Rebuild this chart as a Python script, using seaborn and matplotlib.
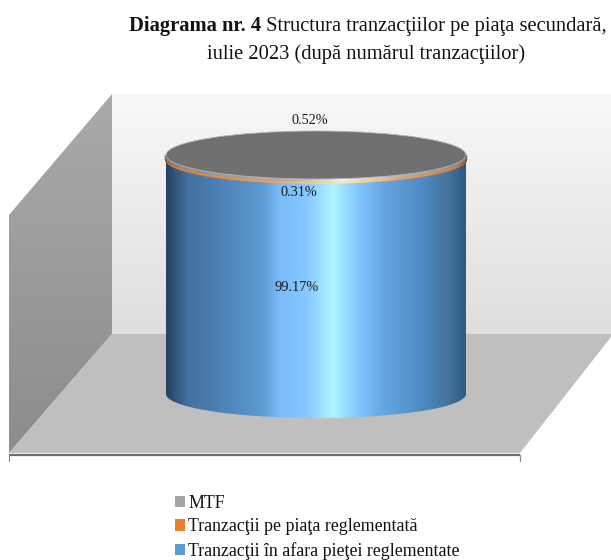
import numpy as np
import pandas as pd
import matplotlib
matplotlib.use("Agg")
import matplotlib.pyplot as plt
import seaborn as sns
from matplotlib.colors import LinearSegmentedColormap
from matplotlib.patches import Patch, Polygon, Ellipse

series = ["Tranzacţii în afara pieţei reglementate", "Tranzacţii pe piaţa reglementată", "MTF"]
values = [99.17, 0.31, 0.52]
labels = ["99.17%", "0.31%", "0.52%"]
legend_colors = ["#5b9bd5", "#ed7d31", "#a5a5a5"]
category = "iulie 2023"

sns.set_theme(style="white")
plt.rcParams["font.family"] = ["Liberation Serif", "DejaVu Serif"]

W, H = 611, 560
fig = plt.figure(figsize=(W / 100, H / 100), dpi=100, facecolor="white")

# --- pseudo-3D room, in pixel coordinates
bg = fig.add_axes([0, 0, 1, 1], zorder=0)
bg.set_xlim(0, W)
bg.set_ylim(H, 0)
bg.axis("off")


def grad_poly(ax, pts, colors):
    pts = np.array(pts, float)
    cmap = LinearSegmentedColormap.from_list("g", colors)
    g = np.linspace(0, 1, 256).reshape(-1, 1)
    ext = (pts[:, 0].min(), pts[:, 0].max(), pts[:, 1].max(), pts[:, 1].min())
    im = ax.imshow(g, cmap=cmap, extent=ext, aspect="auto", origin="upper", zorder=1)
    poly = Polygon(pts, closed=True, transform=ax.transData, fc="none", ec="none")
    ax.add_patch(poly)
    im.set_clip_path(poly)


grad_poly(bg, [(112, 94), (611, 94), (611, 334), (112, 334)], ["#f8f8f8", "#dedede"])
grad_poly(bg, [(112, 94), (9, 215), (9, 453), (112, 334)], ["#aaaaaa", "#8c8c8c"])
bg.add_patch(Polygon([(112, 334), (611, 334), (611, 337), (520, 453), (9, 453)], closed=True,
                     fc="#bfbfbf", ec="none", zorder=2))
bg.plot([9, 520], [455, 455], color="#6b6b6b", lw=1.6, zorder=3, solid_capstyle="butt")
bg.plot([9, 9], [455, 461], color="#8a8a8a", lw=0.9, zorder=3)
bg.plot([520, 520], [455, 461], color="#8a8a8a", lw=0.9, zorder=3)
bg.set_xlim(0, W)
bg.set_ylim(H, 0)

# --- cylinder: stacked bars on a transparent axes
ax = fig.add_axes([0, 0, 1, 1], zorder=1)
ax.patch.set_alpha(0)
df = pd.DataFrame({"cat": [category] * 3, "series": series, "value": values})
bottoms = np.concatenate([[0], np.cumsum(values)[:-1]])
for i, row in df.iterrows():
    sns.barplot(data=df.iloc[[i]], x="cat", y="value", bottom=bottoms[i], width=1.0,
                color=legend_colors[i], saturation=1, ax=ax, errorbar=None, linewidth=0)

PX_PER_PCT = 2.39
x_center_px, y0_px, width_px = 316.0, 394.0, 300.0
ax.set_xlim((0 - x_center_px) / width_px, (W - x_center_px) / width_px)
ax.set_ylim((y0_px - H) / PX_PER_PCT, y0_px / PX_PER_PCT)
xlim, ylim = ax.get_xlim(), ax.get_ylim()
ax.axis("off")

ry = 24 / PX_PER_PCT
rx = 0.5
blue_stops = [(0, "#24435f"), (0.07, "#43709f"), (0.20, "#4f86ba"), (0.32, "#5d9ad2"), (0.38, "#7cbcfa"),
              (0.47, "#86c8ff"), (0.56, "#aef4ff"), (0.64, "#82c6fe"), (0.72, "#66a8e4"), (0.85, "#4f8cc4"),
              (0.94, "#43759f"), (1, "#2f5a80")]
orange_stops = [(0, "#7a4a20"), (0.1, "#d9762e"), (0.4, "#f59a50"), (0.56, "#ffe6b0"), (0.7, "#f59a50"),
                (0.9, "#d9762e"), (1, "#7a4a20")]
grey_stops = [(0, "#6a6a6a"), (0.15, "#8a8a8a"), (0.45, "#b0b0b0"), (0.56, "#f0f0f0"), (0.7, "#b0b0b0"),
              (0.9, "#8a8a8a"), (1, "#6a6a6a")]
all_stops = [blue_stops, orange_stops, grey_stops]
theta = np.linspace(np.pi, 2 * np.pi, 181)
arc_x = rx * np.cos(theta)
arc_y = ry * np.sin(theta)

for i, p in enumerate(ax.patches[:3]):
    b, v = p.get_y(), p.get_height()
    xs = np.concatenate([arc_x, arc_x[::-1]])
    ys = np.concatenate([b + arc_y, b + v + arc_y[::-1]])
    cmap = LinearSegmentedColormap.from_list("c", all_stops[i])
    im = ax.imshow(np.linspace(0, 1, 512).reshape(1, -1), cmap=cmap, aspect="auto",
                   extent=(-rx, rx, b - ry, b + v + 1), zorder=3 + i)
    poly = Polygon(np.c_[xs, ys], closed=True, fc="none", ec="none", transform=ax.transData)
    ax.add_patch(poly)
    im.set_clip_path(poly)

top = sum(values)
# rims of the two thin slices, thickened slightly so that they read as they do in the source
for i, lw, shift in ((1, 1.8, 0.7), (2, 1.9, 0.0)):
    cmap = LinearSegmentedColormap.from_list("c", all_stops[i])
    yy = bottoms[i] + arc_y
    for k in range(len(arc_x) - 1):
        t = k / (len(arc_x) - 2)
        ax.plot(arc_x[k:k + 2], yy[k:k + 2] - shift, color=cmap(t), lw=lw,
                zorder=7 + i, solid_capstyle="round")

ax.add_patch(Ellipse((0, top), 2 * rx, 2 * ry, fc="#707070", ec="#b4b4b4", lw=0.6, zorder=10))
ax.set_xlim(xlim)
ax.set_ylim(ylim)

# --- data labels
label_xy = [(-0.063, 44.7), (-0.057, 84.5), (-0.02, 114.5)]
for lab, (lx, ly) in zip(labels, label_xy):
    ax.text(lx, ly, lab, ha="center", va="center", fontsize=10.3, color="#1a1a1a", zorder=12)

# --- title
fig.canvas.draw()
r = fig.canvas.get_renderer()
t_reg = fig.text(607 / W, 1 - 26 / H, " Structura tranzacţiilor pe piaţa secundară,", ha="right", va="center",
                 fontsize=14.8, color="#111111")
ext = t_reg.get_window_extent(r)
fig.text(ext.x0 / W, 1 - 26 / H, "Diagrama nr. 4", ha="right", va="center", fontsize=14.8,
         fontweight="bold", color="#111111")
fig.text(366 / W, 1 - 54 / H, "iulie 2023 (după numărul tranzacţiilor)", ha="center", va="center",
         fontsize=14.8, color="#111111")

# --- legend
order = [2, 1, 0]
handles = [Patch(fc=legend_colors[i], ec="none") for i in order]
leg = fig.legend(handles, [series[i] for i in order], loc="upper left",
                 bbox_to_anchor=(175 / W, 1 - 495 / H), frameon=False, fontsize=12.9,
                 handlelength=0.55, handleheight=0.6, handletextpad=0.18, labelspacing=0.36,
                 borderpad=0, borderaxespad=0, labelcolor="#111111")

fig.savefig("out.png", dpi=100)
